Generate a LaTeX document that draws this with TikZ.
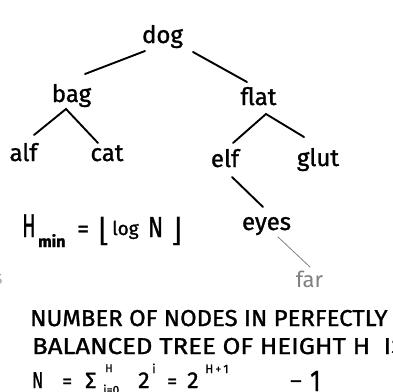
\documentclass[tikz,border=0pt]{standalone}
\usepackage{fontspec}
\setmainfont{Fira Sans}[FakeBold=1.2]
\newfontfamily\thinfont{Fira Sans}
\newfontfamily\symfont{DejaVu Sans}
\usepackage{graphicx}
\newcommand{\putat}[2]{\rlap{\hspace*{#1pt}#2}}
\newcommand{\fs}[1]{\fontsize{#1}{#1}\selectfont}
\begin{document}
\begin{tikzpicture}[x=1pt,y=-1pt,
  word/.style={anchor=base, inner sep=0pt, font=\fs{24}},
  note/.style={anchor=base west, inner sep=0pt},
  edge/.style={line width=1.9pt, line cap=round},
  faint/.style={line width=0.8pt, gray, line cap=round}]
\useasboundingbox (0,0) rectangle (393,391);
% tree words
\node[word] (dog)  at (162.5,43) {dog};
\node[word] (bag)  at (71.5,102) {bag};
\node[word] (flat) at (258.5,105) {flat};
\node[word] (alf)  at (23.5,161) {alf};
\node[word] (cat)  at (107,161) {cat};
\node[word] (elf)  at (225,167) {elf};
\node[word] (glut) at (318,166) {glut};
\node[word] (eyes) at (266.5,230) {eyes};
\node[word, text=gray, font=\thinfont\fs{22}] (far) at (309.5,287) {far};
\node[anchor=base east, inner sep=0pt, text=gray!60, font=\thinfont\fs{20}] (frag) at (3,284) {s};
% edges
\draw[edge] ([shift={(-17.5,8)}]dog.base) -- ([shift={(13.5,-28)}]bag.base);
\draw[edge] ([shift={(30.5,9)}]dog.base) -- ([shift={(-11.5,-23)}]flat.base);
\draw[edge] ([shift={(10.5,-26)}]alf.base) -- ([shift={(-5.5,7)}]bag.base) -- ([shift={(-9,-18)}]cat.base);
\draw[edge] ([shift={(8,-24)}]elf.base) -- ([shift={(7.5,9)}]flat.base) -- ([shift={(-14,-29)}]glut.base);
\draw[edge] ([shift={(7,10)}]elf.base) -- ([shift={(-3.5,-23)}]eyes.base);
\draw[faint] ([shift={(11.5,7)}]eyes.base) -- ([shift={(0.5,-20)}]far.base);
% H_min formula
\node[note] (hmin) at (22,237) {%
  \putat{0}{\scalebox{0.6}[1]{\fs{33}H}}%
  \putat{16}{\raisebox{-10pt}{\fs{16}\bfseries min}}%
  \putat{55}{\fs{24}=}%
  \putat{76}{\raisebox{-4pt}{\symfont\fs{32}⌊}}%
  \putat{90}{\raisebox{2pt}{\fs{19}log}}%
  \putat{126}{\scalebox{0.75}[1]{\fs{29}N}}%
  \putat{148}{\raisebox{-4pt}{\symfont\fs{32}⌋}}%
  \hspace*{160pt}};
% text lines
\node[note, font=\fs{23}] (line1) at (30,326) {\scalebox{1.04}[1]{NUMBER OF NODES IN PERFECTLY}};
\node[note, font=\fs{23}] (line2) at (32,354) {\scalebox{1.12}[1]{BALANCED TREE OF HEIGHT H\hspace{12pt}IS}};
\node[note] (line3) at (32,388) {%
  \putat{0}{\scalebox{0.7}[1]{\fs{23}N}}%
  \putat{30}{\fs{20}=}%
  \putat{53}{\fs{22}Σ}%
  \putat{73}{\raisebox{16pt}{\fs{11}H}}%
  \putat{71}{\raisebox{-6pt}{\fs{12}i=0}}%
  \putat{106}{\fs{23}2}%
  \putat{120}{\raisebox{15pt}{\fs{12}i}}%
  \putat{135}{\fs{20}=}%
  \putat{155}{\fs{23}2}%
  \putat{173}{\raisebox{15pt}{\fs{12}H\,+\,1}}%
  \putat{258}{\fs{22}–}%
  \putat{278}{\raisebox{-3pt}{\scalebox{0.8}[1]{\fs{30}1}}}%
  \hspace*{290pt}};
\end{tikzpicture}
\end{document}
